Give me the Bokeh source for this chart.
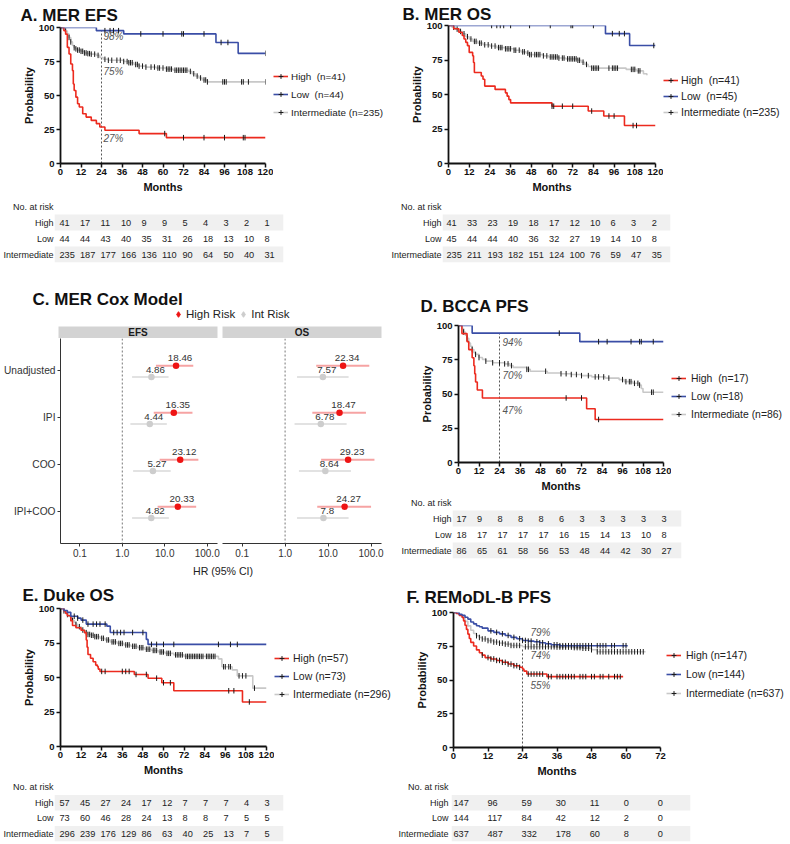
import numpy as np
from bokeh.plotting import figure
from bokeh.models import Range1d, FactorRange, Legend, LegendItem, FixedTicker, Span, ColumnDataSource
from bokeh.layouts import row, column
from bokeh.embed import file_html
from bokeh.resources import INLINE
from bokeh.core.properties import value
from bokeh.transform import dodge

# ======================= DATA =======================
months_120 = [0, 12, 24, 36, 48, 60, 72, 84, 96, 108, 120]
months_72 = [0, 12, 24, 36, 48, 60, 72]
prob_ticks = [0, 25, 50, 75, 100]
landmark = 24
risk_groups = ["High", "Low", "Intermediate"]

# ---- A. MER EFS ----
hiA_t = [0, 2, 3, 4, 5, 6, 7, 7.5, 8, 9, 10, 11, 13, 15, 18, 21, 23, 26, 46, 62, 120]
hiA_s = [100, 97.6, 95.1, 85.4, 80.5, 73.2, 68.3, 58.5, 53.7, 48.8, 43.9, 41.5, 36.6, 34.1, 31.7, 29.3, 26.8, 24.4, 22.0, 19.0, 19.0]
hiA_c = [61, 72, 84, 96, 107, 108]
loA_t = [0, 21, 37, 91, 104, 120]
loA_s = [100, 97.7, 95.3, 89.0, 81.0, 81.0]
loA_c = [26, 29, 31, 34, 47, 60, 71, 72, 84, 94, 98, 120]
intA_t = [0, 1, 2, 3, 4, 5, 6, 7, 8, 9, 10, 12, 14, 16, 18, 21, 23, 25, 28, 37, 40, 43, 46, 50, 56, 62, 66, 75, 77, 79, 81, 83, 86, 120]
intA_s = [100, 99.1, 98.3, 97.4, 95.3, 92.7, 89.4, 86.8, 85.1, 84.3, 83.4, 82.5, 81.3, 80.8, 80.4, 79.5, 77.9, 76.6, 75.9, 75.0, 74.1, 72.8, 71.6, 70.9, 70.2, 69.4, 68.6, 67.7, 66.0, 64.3, 62.9, 61.4, 60.0, 60.0]
intA_c = [3, 5, 6, 8, 9, 10, 11, 12, 13, 14, 15, 16, 17, 18, 20, 22, 26, 28, 30, 33, 35, 37, 39, 40, 41, 42, 44, 45, 46, 48, 50, 53, 55, 57, 58, 60, 62, 63, 64, 65, 67, 68, 69, 70, 71, 72, 73, 74, 76, 78, 80, 82, 84, 85, 86, 95, 96, 97, 106, 107, 110, 120]
pctA = [98, 75, 27]
riskA_high = [41, 17, 11, 10, 9, 9, 5, 4, 3, 2, 1]
riskA_low = [44, 44, 43, 40, 35, 31, 26, 18, 13, 10, 8]
riskA_int = [235, 187, 177, 166, 136, 110, 90, 64, 50, 40, 31]

# ---- B. MER OS ----
hiB_t = [0, 3, 6, 8, 9, 10, 11, 12, 14, 14.5, 15, 19, 20, 21, 27, 33, 34, 35, 36, 60, 81, 90, 102, 120]
hiB_s = [100, 97.6, 95.1, 92.7, 90.2, 87.8, 85.4, 80.5, 78.0, 73.2, 65.9, 63.4, 61.0, 56.1, 53.7, 51.2, 48.8, 46.3, 43.9, 41.5, 38.0, 34.4, 27.5, 27.5]
hiB_c = [60, 61, 66, 72, 83, 93, 96, 107, 109]
loB_t = [0, 91, 105, 120]
loB_s = [100, 94.1, 85.5, 85.5]
loB_c = [25, 28, 30, 32, 36, 47, 59, 71, 72, 84, 95, 99, 102, 119]
intB_t = [0, 2, 4, 6, 8, 10, 12, 14, 17, 20, 24, 28, 33, 38, 42, 45, 47, 55, 58, 64, 68, 75, 77, 79, 81, 83, 103, 109, 113, 115]
intB_s = [100, 98.7, 97.4, 95.7, 94.0, 91.9, 90.2, 88.5, 87.2, 86.0, 85.1, 84.0, 83.1, 82.1, 80.9, 80.0, 78.9, 78.0, 77.2, 76.4, 75.8, 74.8, 73.4, 71.8, 70.3, 69.1, 68.2, 67.1, 65.0, 64.0]
intB_c = [3, 5, 7, 9, 11, 13, 15, 16, 18, 19, 21, 23, 25, 27, 29, 30, 31, 33, 34, 35, 36, 38, 39, 41, 43, 44, 46, 47, 48, 50, 51, 52, 53, 55, 57, 59, 60, 61, 62, 63, 64, 66, 67, 69, 70, 71, 72, 73, 74, 75, 76, 78, 80, 83, 84, 85, 86, 87, 93, 95, 96, 97, 98, 106, 107, 108, 110, 111]
riskB_high = [41, 33, 23, 19, 18, 17, 12, 10, 6, 3, 2]
riskB_low = [45, 44, 44, 40, 36, 32, 27, 19, 14, 10, 8]
riskB_int = [235, 211, 193, 182, 151, 124, 100, 76, 59, 47, 35]

# ---- C. MER Cox model ----
cox_models = ["Unadjusted", "IPI", "COO", "IPI+COO"]
efs_high_hr = [18.46, 16.35, 23.12, 20.33]
efs_high_lo = [6.2, 5.5, 7.6, 6.8]
efs_high_up = [47, 45, 62, 55]
efs_int_hr = [4.86, 4.44, 5.27, 4.82]
efs_int_lo = [1.7, 1.55, 1.8, 1.7]
efs_int_up = [12.3, 11.2, 13.8, 12.5]
os_high_hr = [22.34, 18.47, 29.23, 24.27]
os_high_lo = [5.3, 4.3, 6.9, 5.6]
os_high_up = [91, 76, 120, 100]
os_int_hr = [7.57, 6.78, 8.64, 7.8]
os_int_lo = [1.9, 1.66, 2.1, 1.9]
os_int_up = [30, 27, 34, 30]
hr_ticks = [0.1, 1, 10, 100]
hr_tick_labels = ["0.1", "1.0", "10.0", "100.0"]
hr_null = 1

# ---- D. BCCA PFS ----
hiD_t = [0, 2, 5, 6, 8, 9, 9.5, 10, 11, 14, 75, 80, 120]
hiD_s = [100, 94.1, 88.2, 82.4, 76.5, 70.6, 64.7, 58.8, 52.9, 47.1, 39.2, 31.4, 31.4]
hiD_c = [63, 72, 82]
loD_t = [0, 8, 71, 120]
loD_s = [100, 94.4, 88.2, 88.2]
loD_c = [59, 82, 87, 101, 106, 107, 114]
intD_t = [0, 2, 3, 4, 5, 6, 7, 8, 9, 10, 12, 14, 16, 20, 27, 30, 32, 40, 42, 52, 60, 66, 72, 78, 86, 94, 97, 102, 106, 107, 108, 120]
intD_s = [100, 97.7, 95.3, 93.0, 90.7, 87.2, 84.8, 82.5, 80.2, 78.9, 76.6, 75.3, 74.0, 72.8, 72.0, 70.7, 69.4, 68.0, 66.6, 65.3, 64.8, 64.2, 63.4, 62.5, 61.6, 60.5, 59.0, 57.8, 56.5, 54.0, 51.3, 51.3]
intD_c = [3, 5, 8, 10, 12, 16, 20, 24, 27, 29, 31, 40, 41, 51, 60, 63, 66, 69, 72, 76, 80, 82, 85, 88, 96, 98, 100, 101, 103, 105, 106, 113, 114]
pctD = [94, 70, 47]
riskD_high = [17, 9, 8, 8, 8, 6, 3, 3, 3, 3, 3]
riskD_low = [18, 17, 17, 17, 17, 16, 15, 14, 13, 10, 8]
riskD_int = [86, 65, 61, 58, 56, 53, 48, 44, 42, 30, 27]

# ---- E. Duke OS ----
hiE_t = [0, 2, 3, 4, 6, 7, 9, 12, 14, 15, 15.5, 16, 17.5, 19, 20.5, 21.5, 22, 23, 43, 51, 59, 66, 106, 120]
hiE_s = [100, 98.2, 96.5, 94.7, 91.2, 87.7, 86.0, 84.2, 82.5, 77.2, 72.0, 66.7, 64.0, 61.4, 59.0, 57.9, 56.1, 54.4, 52.2, 49.5, 46.2, 40.4, 32.3, 32.3]
hiE_c = [24, 26, 36, 38, 40, 44, 50, 56, 60, 64, 98, 101, 110]
loE_t = [0, 2, 4, 6, 10, 12, 15, 27, 29, 50, 51, 120]
loE_s = [100, 98.6, 97.2, 94.4, 93.0, 91.6, 88.7, 87.2, 82.6, 77.6, 74.0, 74.0]
loE_c = [8, 10, 13, 16, 19, 21, 23, 26, 31, 33, 35, 37, 42, 48, 53, 56, 60, 66, 92, 99, 103]
intE_t = [0, 1, 2, 3, 4, 5, 6, 7, 8, 9, 10, 12, 14, 16, 18, 20, 23, 26, 29, 33, 37, 41, 45, 49, 53, 57, 61, 66, 72, 92, 94, 100, 103, 112, 120]
intE_s = [100, 99.3, 98.3, 97.0, 95.6, 94.2, 92.8, 91.4, 89.9, 88.5, 86.8, 84.4, 82.5, 81.2, 80.6, 79.6, 78.4, 77.2, 75.8, 74.7, 73.6, 72.6, 71.6, 70.5, 69.6, 68.5, 67.5, 66.4, 65.3, 63.5, 57.8, 55.5, 51.2, 42.3, 42.3]
intE_c = [2, 4, 6, 7, 9, 11, 13, 15, 16, 17, 18, 19, 20, 21, 22, 24, 25, 27, 28, 30, 31, 32, 34, 35, 36, 38, 39, 40, 42, 43, 44, 46, 47, 48, 50, 51, 52, 54, 55, 56, 58, 59, 60, 62, 63, 64, 67, 68, 69, 70, 71, 73, 74, 75, 76, 77, 78, 79, 80, 81, 82, 83, 85, 86, 87, 88, 89, 90, 95, 96, 98, 99, 104, 106, 108, 113]
riskE_high = [57, 45, 27, 24, 17, 12, 7, 7, 7, 4, 3]
riskE_low = [73, 60, 46, 28, 24, 13, 8, 8, 7, 5, 5]
riskE_int = [296, 239, 176, 129, 86, 63, 40, 25, 13, 7, 5]

# ---- F. REMoDL-B PFS ----
hiF_t = [0, 1, 2, 3, 3.5, 4, 4.5, 5, 5.5, 6, 7, 8, 9, 10, 11, 13, 15, 17, 19, 21, 23, 24, 24.5, 25.5, 32.5, 59]
hiF_s = [100, 99.3, 97.9, 96.4, 93.8, 90.6, 87.5, 84.0, 80.7, 77.9, 75.2, 72.3, 70.2, 68.4, 66.6, 65.6, 64.5, 63.1, 61.8, 60.6, 59.4, 58.2, 56.6, 54.4, 52.5, 52.5]
hiF_c = [10, 12, 13, 14, 15, 16, 17, 18, 19, 20, 21, 22, 23, 26, 27, 28, 29, 30, 31, 33, 34, 36, 37, 38, 39, 40, 41, 42, 44, 45, 46, 48, 49, 51, 52, 54, 56, 57, 58]
loF_t = [0, 2, 3, 4, 5, 6, 7, 8, 9, 10, 12, 14, 16, 18, 20, 22, 24, 26, 28, 30, 32, 34, 37, 60.6]
loF_s = [100, 98.6, 97.9, 96.5, 95.1, 93.0, 91.6, 90.2, 89.5, 88.4, 86.4, 85.3, 84.2, 83.0, 81.6, 80.6, 79.3, 78.8, 78.3, 77.6, 76.8, 76.1, 75.4, 75.4]
loF_c = [13, 15, 17, 19, 21, 23, 24, 25, 26, 27, 29, 30, 31, 33, 35, 36, 37, 38, 39, 40, 41, 42, 43, 44, 45, 46, 47, 48, 50, 51, 52, 53, 55, 56, 59, 60]
intF_t = [0, 1, 2, 3, 4, 5, 6, 7, 8, 9, 10, 12, 14, 16, 18, 20, 24, 36, 42, 45, 48, 50, 66.8]
intF_s = [100, 99.3, 98.2, 96.3, 93.4, 90.1, 86.9, 84.5, 82.8, 81.5, 80.4, 79.2, 78.1, 77.3, 76.6, 75.6, 74.6, 74.4, 74.0, 73.5, 72.4, 70.9, 70.9]
intF_c = [8, 9, 10, 11, 12, 13, 14, 15, 16, 17, 18, 19, 20, 21, 22, 23, 25, 26, 27, 28, 29, 30, 31, 32, 33, 34, 35, 36, 37, 38, 39, 40, 41, 42, 43, 44, 45, 46, 47, 48, 50, 51, 52, 53, 54, 55, 56, 57, 58, 59, 60, 61, 62, 63, 64, 65, 66]
pctF = [79, 74, 55]
riskF_high = [147, 96, 59, 30, 11, 0, 0]
riskF_low = [144, 117, 84, 42, 12, 2, 0]
riskF_int = [637, 487, 332, 178, 60, 8, 0]

# ======================= STYLE / HELPERS =======================
FONT = "Liberation Sans"
RED = "#ec2a1e"
BLUE = "#3a4ea6"
GREY = "#c8c8c8"
TICK = "#1a1a1a"
HI_PT = "#ee1414"
HI_LN = "#f6a3a3"
INT_PT = "#cdcdcd"
INT_LN = "#e2e2e2"


def Z(v):
    return int(round(v))


def px(v):
    return f"{v:.2f}px"


def W(p):
    # wrap each plot on its own so that Bokeh does not align frames of siblings
    return column(p)


def step_at(t, s, q):
    t = np.asarray(t, float)
    s = np.asarray(s, float)
    i = np.searchsorted(t, np.asarray(q, float), side="right") - 1
    return s[np.clip(i, 0, len(s) - 1)]


def base_fig(box, frame, **kw):
    X0, Y0, X1, Y1 = box
    fl, ft, fr, fb = frame
    p = figure(width=Z(X1) - Z(X0), height=Z(Y1) - Z(Y0),
               min_border_left=Z(fl) - Z(X0), min_border_right=Z(X1) - Z(fr),
               min_border_top=Z(ft) - Z(Y0), min_border_bottom=Z(Y1) - Z(fb),
               output_backend="svg", toolbar_location=None, **kw)
    p.outline_line_color = None
    p.grid.visible = False
    return p


def style_title(t, size, style="bold", color="#111111"):
    t.text_font = FONT
    t.text_font_size = px(size)
    t.text_font_style = style
    t.text_color = color


def km_figure(title, box, frame, title_x, title_cy, xmax, xticks, curves, pct=None):
    X0, Y0, X1, Y1 = box
    fl, ft, fr, fb = frame
    p = base_fig(box, frame, x_range=Range1d(0, xmax), y_range=Range1d(0, 100))
    top = Z(ft) - Z(Y0)
    so = ft - title_cy - 9.7
    so = max(0.0, min(so, top - 21))
    p.title.text = title
    style_title(p.title, 17)
    p.title.align = "left"
    p.title.offset = title_x - fl
    p.title.standoff = so

    xa, ya = p.xaxis[0], p.yaxis[0]
    xa.ticker = FixedTicker(ticks=xticks)
    ya.ticker = FixedTicker(ticks=prob_ticks)
    xa.axis_label = "Months"
    ya.axis_label = "Probability"
    for ax in (xa, ya):
        ax.axis_line_width = 1.8
        ax.axis_line_color = "#111111"
        ax.major_tick_line_width = 1.5
        ax.major_tick_line_color = "#111111"
        ax.major_tick_out = 4
        ax.major_tick_in = 0
        ax.minor_tick_out = 0
        ax.minor_tick_in = 0
        ax.major_label_text_font = FONT
        ax.major_label_text_font_style = "bold"
        ax.major_label_text_font_size = px(9.5)
        ax.major_label_text_color = "#111111"
        ax.axis_label_text_font = FONT
        ax.axis_label_text_font_style = "bold"
        ax.axis_label_text_font_size = px(11)
        ax.axis_label_text_color = "#111111"
    xa.major_label_standoff = 1
    ya.major_label_standoff = 2
    xa.axis_label_standoff = 3
    ya.axis_label_standoff = 1

    if pct is not None:
        vals, top_i, xoff, yoffs = pct
        p.segment(x0=[landmark], y0=[0], x1=[landmark], y1=[vals[top_i]],
                  line_color="#555555", line_width=1, line_dash="2 2")
        src = ColumnDataSource(dict(x=[landmark] * len(vals), y=vals,
                                    text=[f"{v}%" for v in vals], yo=yoffs))
        p.text(x="x", y="y", text="text", source=src, x_offset=xoff, y_offset="yo",
               text_font=value(FONT), text_font_style="italic", text_font_size=px(10),
               text_color="#555555", text_baseline="middle", text_align="left")

    for c in curves:
        p.step(x=c["t"], y=c["s"], mode="after", line_color=c["color"], line_width=1.6)
        p.scatter(x=c["cens"], y=step_at(c["t"], c["s"], c["cens"]), marker="dash",
                  angle=np.pi / 2, size=5.5, line_color=TICK, line_width=1)
    return p


def legend_figure(box, frame_tb, curves, leg):
    # key figure beside a KM plot; its own glyphs fall outside its 0..1 ranges
    X0, Y0, X1, Y1 = box
    ft, fb = frame_tb
    lf = base_fig(box, (X0, ft, X1, fb), x_range=Range1d(0, 1), y_range=Range1d(0, 1),
                  x_axis_location=None, y_axis_location=None)
    entries = {}
    for c in curves:
        lr = lf.step(x=c["t"], y=c["s"], mode="after", line_color=c["color"], line_width=1.6)
        tr = lf.scatter(x=c["cens"], y=step_at(c["t"], c["s"], c["cens"]), marker="cross",
                        size=5, line_color=TICK, line_width=1)
        entries[c["key"]] = LegendItem(label=c["label"], renderers=[lr, tr])
    lx, ly0, pitch, lso, lfont = leg
    legend = Legend(items=[entries[k] for k in ("high", "low", "int")],
                    location=(max(0, Z(lx) - Z(X0)), Z(fb) - Z(ly0 + 2 * pitch + 6)),
                    margin=0, padding=0, spacing=int(round(pitch - 12)),
                    glyph_width=15, glyph_height=12, label_height=12,
                    label_standoff=lso, label_text_font=FONT,
                    label_text_font_size=px(lfont), label_text_color="#222222",
                    background_fill_alpha=0, border_line_alpha=0)
    lf.add_layout(legend)
    return lf


def risk_figure(box, frame, kframe, xmax, times, counts, xoff, lab_standoff=1):
    fl, ft, fr, fb = frame
    kfl, kfr = kframe
    ppm = (kfr - kfl) / xmax
    xs = (fl - kfl) / ppm
    xe = (fr - kfl) / ppm
    cats = ["Intermediate", "Low", "High", "No. at risk"]
    p = base_fig(box, frame, x_range=Range1d(xs, xe), y_range=FactorRange(factors=cats),
                 x_axis_location=None)
    p.hbar(y=["High", "Intermediate"], left=xs, right=xe, height=1.0,
           fill_color="#f0f0f0", line_color=None)
    for name, vals in zip(risk_groups, counts):
        p.text(x=times, y=[name] * len(times), text=[str(v) for v in vals],
               x_offset=xoff, text_align="left", text_baseline="middle",
               text_font=value(FONT), text_font_size=px(9.2), text_color="#222222")
    ya = p.yaxis[0]
    ya.major_tick_out = 0
    ya.major_tick_in = 0
    ya.minor_tick_out = 0
    ya.axis_line_color = None
    ya.major_label_standoff = lab_standoff
    ya.major_label_text_font = FONT
    ya.major_label_text_font_size = px(9)
    ya.major_label_text_color = "#222222"
    return p


def forest_figure(box, frame, hi, it, show_y):
    yr = FactorRange(factors=list(reversed(cox_models)), range_padding=0.18,
                     range_padding_units="absolute")
    p = base_fig(box, frame, x_axis_type="log", x_range=Range1d(0.035, 175), y_range=yr,
                 y_axis_location="left" if show_y else None)
    p.add_layout(Span(location=hr_null, dimension="height", line_dash="2 2",
                      line_color="#777777", line_width=1))
    for (hrs, los, ups), dy, pc, lc in ((it, -0.14, INT_PT, INT_LN), (hi, 0.1, HI_PT, HI_LN)):
        src = ColumnDataSource(dict(m=cox_models, hr=hrs, lo=los, up=ups,
                                    lab=[str(v) for v in hrs]))
        yy = dodge("m", dy, range=yr)
        p.segment(x0="lo", y0=yy, x1="up", y1=yy, source=src, line_color=lc, line_width=2)
        p.scatter(x="hr", y=yy, source=src, size=6.5, fill_color=pc, line_color=None)
        p.text(x="hr", y=yy, text="lab", source=src, x_offset=4, y_offset=-7.5,
               text_align="center", text_baseline="middle", text_font=value(FONT),
               text_font_size=px(9.8), text_color="#333333")
    xa = p.xaxis[0]
    xa.ticker = FixedTicker(ticks=hr_ticks)
    xa.major_label_overrides = dict(zip(hr_ticks, hr_tick_labels))
    axes = [xa] + ([p.yaxis[0]] if show_y else [])
    for ax in axes:
        ax.axis_line_color = "#333333"
        ax.axis_line_width = 1
        ax.major_tick_line_color = "#333333"
        ax.major_tick_out = 3
        ax.major_tick_in = 0
        ax.minor_tick_out = 0
        ax.minor_tick_in = 0
        ax.major_label_text_font = FONT
        ax.major_label_text_color = "#333333"
        ax.major_label_standoff = 2
    xa.major_label_text_font_size = px(10)
    if show_y:
        p.yaxis[0].major_label_text_font_size = px(10.2)
    return p


def strip_figure(box, frame, label):
    p = base_fig(box, frame, x_range=Range1d(0, 1), y_range=Range1d(0, 1),
                 x_axis_location=None, y_axis_location=None)
    p.background_fill_color = "#d3d3d3"
    p.text(x=[0.5], y=[0.5], text=[label], text_align="center", text_baseline="middle",
           text_font=value(FONT), text_font_style="bold", text_font_size=px(10),
           text_color="#1a1a1a")
    return p


# ======================= PANELS =======================
A_curves = [
    dict(key="int", t=intA_t, s=intA_s, cens=intA_c, color=GREY, label="Intermediate (n=235)"),
    dict(key="high", t=hiA_t, s=hiA_s, cens=hiA_c, color=RED, label="High  (n=41)"),
    dict(key="low", t=loA_t, s=loA_s, cens=loA_c, color=BLUE, label="Low  (n=44)"),
]
B_curves = [
    dict(key="int", t=intB_t, s=intB_s, cens=intB_c, color=GREY, label="Intermediate (n=235)"),
    dict(key="high", t=hiB_t, s=hiB_s, cens=hiB_c, color=RED, label="High  (n=41)"),
    dict(key="low", t=loB_t, s=loB_s, cens=loB_c, color=BLUE, label="Low  (n=45)"),
]
D_curves = [
    dict(key="int", t=intD_t, s=intD_s, cens=intD_c, color=GREY, label="Intermediate (n=86)"),
    dict(key="high", t=hiD_t, s=hiD_s, cens=hiD_c, color=RED, label="High  (n=17)"),
    dict(key="low", t=loD_t, s=loD_s, cens=loD_c, color=BLUE, label="Low (n=18)"),
]
E_curves = [
    dict(key="int", t=intE_t, s=intE_s, cens=intE_c, color=GREY, label="Intermediate (n=296)"),
    dict(key="high", t=hiE_t, s=hiE_s, cens=hiE_c, color=RED, label="High (n=57)"),
    dict(key="low", t=loE_t, s=loE_s, cens=loE_c, color=BLUE, label="Low (n=73)"),
]
F_curves = [
    dict(key="int", t=intF_t, s=intF_s, cens=intF_c, color=GREY, label="Intermediate (n=637)"),
    dict(key="high", t=hiF_t, s=hiF_s, cens=hiF_c, color=RED, label="High (n=147)"),
    dict(key="low", t=loF_t, s=loF_s, cens=loF_c, color=BLUE, label="Low (n=144)"),
]

SP12, SP3, SP45, RIGHT, BOTTOM = 388, 390, 395, 789, 842

# --- band 1: A and B survival plots + keys
A_km = km_figure("A. MER EFS", (0, 0, 273, 198), (60, 27, 265, 163), 20, 8, 120, months_120,
                 A_curves, (pctA, 0, 2, [6.5, 10, 12]))
A_leg = legend_figure((273, 0, SP12, 198), (27, 163), A_curves, (272, 77, 17.5, 3, 9.9))
B_km = km_figure("B. MER OS", (SP12, 0, 663, 198), (448, 25, 655, 163), 402, 7.5, 120, months_120,
                 B_curves)
B_leg = legend_figure((663, 0, RIGHT, 198), (25, 163), B_curves, (663, 80, 16.2, 3, 10.6))

# --- band 2: risk tables A, B
A_tab = risk_figure((0, 198, SP12, 285), (54, 198, 283, 262), (60, 265), 120, months_120,
                    [riskA_high, riskA_low, riskA_int], -1)
B_tab = risk_figure((SP12, 198, RIGHT, 285), (440, 198, 670, 262), (448, 655), 120, months_120,
                    [riskB_high, riskB_low, riskB_int], -4)

# --- band 3 left: C forest plot
C_head = base_fig((0, 285, SP3, 326), (0, 307.5, SP3, 326), x_range=Range1d(0, 1),
                  y_range=Range1d(0, 1), x_axis_location=None, y_axis_location=None)
C_head.title.text = "C. MER Cox Model"
style_title(C_head.title, 17)
C_head.title.align = "left"
C_head.title.offset = 32
C_head.title.standoff = 0
r_hi = C_head.scatter(x=efs_high_hr[:1], y=efs_high_hr[:1], marker="diamond", size=9,
                      fill_color=HI_PT, line_color=HI_PT)
r_it = C_head.scatter(x=efs_int_hr[:1], y=efs_int_hr[:1], marker="diamond", size=9,
                      fill_color=INT_PT, line_color=INT_PT)
C_head.add_layout(Legend(items=[LegendItem(label="High Risk", renderers=[r_hi]),
                                LegendItem(label="Int Risk", renderers=[r_it])],
                         orientation="horizontal", location=(170, Z(326) - Z(321)),
                         margin=0, padding=0, spacing=0, glyph_width=16, glyph_height=14,
                         label_height=13, label_standoff=0, label_text_font=FONT,
                         label_text_font_size=px(11.5), label_text_color="#222222",
                         background_fill_alpha=0, border_line_alpha=0))

sE = strip_figure((0, 326, 219.5, 338), (58, 326, 217, 338), "EFS")
sO = strip_figure((219.5, 326, SP3, 338), (222, 326, 381, 338), "OS")
fE = forest_figure((0, 338, 219.5, 562), (58, 338, 217, 543),
                   (efs_high_hr, efs_high_lo, efs_high_up), (efs_int_hr, efs_int_lo, efs_int_up), True)
fO = forest_figure((219.5, 338, SP3, 562), (222, 338, 381, 543),
                   (os_high_hr, os_high_lo, os_high_up), (os_int_hr, os_int_lo, os_int_up), False)
HR = base_fig((0, 562, SP3, 579), (64, 562, 381, 579), x_range=Range1d(0, 1), y_range=Range1d(0, 1),
              x_axis_location=None, y_axis_location=None)
HR.title.text = "HR (95% CI)"
style_title(HR.title, 10.6, "normal", "#222222")
HR.title.align = "center"
HR.title.standoff = 0

# --- band 3 right: D survival plot + table
D_km = km_figure("D. BCCA PFS", (SP3, 285, 671, 494), (458, 325, 663, 462), 420, 297, 120, months_120,
                 D_curves, (pctD, 0, 3, [9, 9, 12.4]))
D_leg = legend_figure((671, 285, RIGHT, 494), (325, 462), D_curves, (671, 377, 18.5, 5, 10.4))
D_tab = risk_figure((SP3, 494, RIGHT, 579), (452, 494, 681, 558), (458, 663), 120, months_120,
                    [riskD_high, riskD_low, riskD_int], -2)

# --- band 4/5: E and F
E_km = km_figure("E. Duke OS", (0, 579, 274, 779), (60, 608, 266, 746), 22, 590, 120, months_120,
                 E_curves)
E_leg = legend_figure((274, 579, SP45, 779), (608, 746), E_curves, (274, 658, 18, 4, 10.5))
F_km = km_figure("F. REMoDL-B PFS", (SP45, 579, 666, 779), (453, 612, 660, 747), 406, 591, 72, months_72,
                 F_curves, (pctF, 1, 8, [-8.5, 8, 12]))
F_leg = legend_figure((666, 579, RIGHT, 779), (612, 747), F_curves, (666, 655, 19, 5, 10.5))
E_tab = risk_figure((0, 779, SP45, BOTTOM), (53, 779, 283, BOTTOM - 1), (60, 266), 120, months_120,
                    [riskE_high, riskE_low, riskE_int], -2)
F_tab = risk_figure((SP45, 779, RIGHT, BOTTOM), (448, 779, 690, BOTTOM - 1), (453, 660), 72, months_72,
                    [riskF_high, riskF_low, riskF_int], -3, lab_standoff=3)

left3 = column(W(C_head), row(W(sE), W(sO)), row(W(fE), W(fO)), W(HR))
right3 = column(row(W(D_km), W(D_leg)), W(D_tab))
layout = column(row(W(A_km), W(A_leg), W(B_km), W(B_leg)),
                row(W(A_tab), W(B_tab)),
                row(left3, right3),
                row(W(E_km), W(E_leg), W(F_km), W(F_leg)),
                row(W(E_tab), W(F_tab)))

open("out.html", "w").write(file_html(layout, INLINE))
